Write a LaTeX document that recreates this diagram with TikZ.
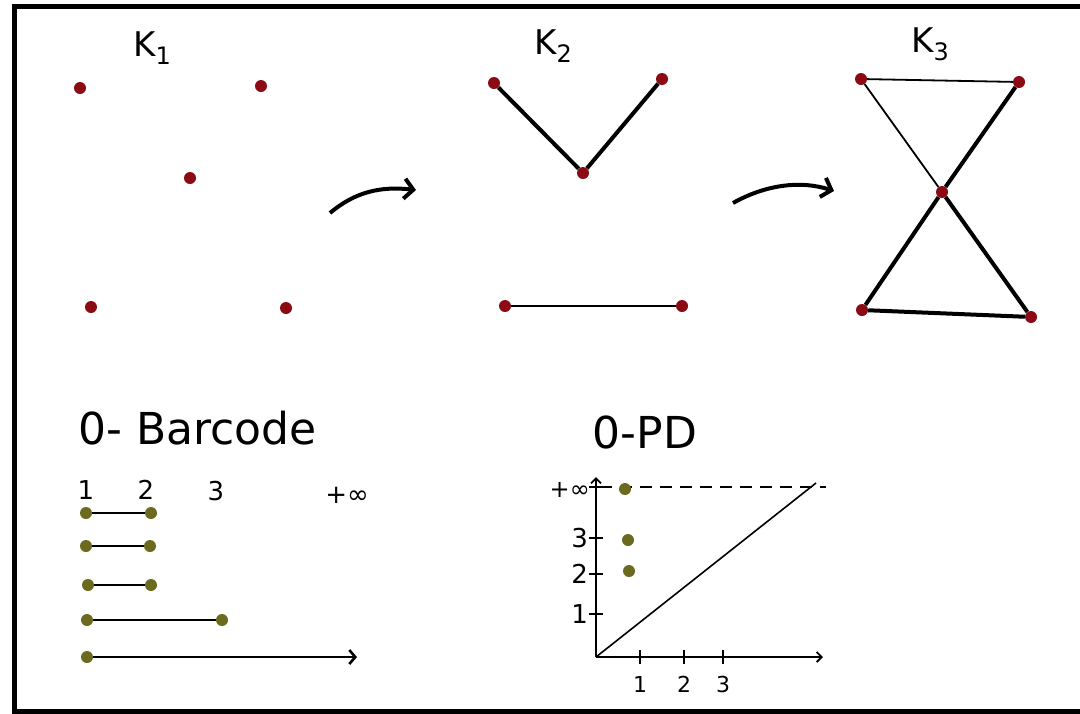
\documentclass[tikz,border=0pt]{standalone}
\usepackage{fontspec}
\setmainfont{DejaVu Sans}
\usetikzlibrary{arrows.meta}
\definecolor{dotred}{HTML}{8B0A14}
\definecolor{dotolive}{HTML}{6B6A1E}
\begin{document}
\begin{tikzpicture}[x=1pt,y=-1pt,
  rdot/.style={circle,fill=dotred,inner sep=0pt,minimum size=12pt},
  odot/.style={circle,fill=dotolive,inner sep=0pt,minimum size=12pt},
  thickedge/.style={line width=4pt,black},
  thinedge/.style={line width=1.8pt,black},
  bar/.style={line width=2.6pt,black},
  bigarrow/.style={line width=4pt,-{Straight Barb[length=9pt,width=20pt,line width=4pt]}},
  lbl/.style={font=\fontsize{34}{36}\selectfont,inner sep=0pt},
  title/.style={font=\fontsize{44}{46}\selectfont,inner sep=0pt},
  num/.style={font=\fontsize{26}{28}\selectfont,inner sep=0pt},
  axis/.style={line width=1.8pt,-{Straight Barb[length=5pt,width=10pt]}}
]
\useasboundingbox (0,0) rectangle (1080,713);
% frame
\draw[line width=5pt] (1080,6) -- (14,6) -- (14,711) -- (1080,711);

% K1
\node[lbl] (k1) at (152,48) {K{\fontsize{24}{26}\selectfont\raisebox{-8pt}{1}}};
\node[rdot] (a1) at (80,88) {};
\node[rdot] (a2) at (261,86) {};
\node[rdot] (a3) at (190,178) {};
\node[rdot] (a4) at (91,307) {};
\node[rdot] (a5) at (286,308) {};

% arrow 1
\coordinate (p1s) at (330,213);
\coordinate (p1e) at (416,190);
\draw[bigarrow] (p1s) .. controls (355,192) and (380,186) .. (p1e);

% K2
\node[lbl] (k2) at (553,46) {K{\fontsize{24}{26}\selectfont\raisebox{-8pt}{2}}};
\node[rdot] (b1) at (494,83) {};
\node[rdot] (b2) at (662,79) {};
\node[rdot] (b3) at (583,173) {};
\node[rdot] (b4) at (505,306) {};
\node[rdot] (b5) at (682,306) {};
\draw[thickedge] (b1) -- (b3);
\draw[thickedge] (b3) -- (b2);
\draw[bar] (b4) -- (b5);

% arrow 2
\coordinate (p2s) at (733,203);
\coordinate (p2e) at (834,191);
\draw[bigarrow] (p2s) .. controls (765,185) and (800,180) .. (p2e);

% K3
\node[lbl] (k3) at (930,44) {K{\fontsize{24}{26}\selectfont\raisebox{-8pt}{3}}};
\node[rdot] (c1) at (861,79) {};
\node[rdot] (c2) at (1019,82) {};
\node[rdot] (c3) at (942,192) {};
\node[rdot] (c4) at (862,310) {};
\node[rdot] (c5) at (1031,317) {};
\draw[thinedge] (c1) -- (c2);
\draw[thinedge] (c1) -- (c3);
\draw[thickedge] (c2) -- (c3);
\draw[thickedge] (c3) -- (c4);
\draw[thickedge] (c3) -- (c5);
\draw[thickedge] (c4) -- (c5);

% Barcode
\node[title,anchor=west] (bt) at (78,428) {0- Barcode};
\node[num] (n1) at (86,490) {1};
\node[num] (n2) at (146,490) {2};
\node[num] (n3) at (216,491) {3};
\node[num] (ninf) at (347,495) {+∞};
\node[odot] (d1a) at (86,513) {};
\node[odot] (d1b) at (151,513) {};
\node[odot] (d2a) at (86,546) {};
\node[odot] (d2b) at (150,546) {};
\node[odot] (d3a) at (88,585) {};
\node[odot] (d3b) at (151,585) {};
\node[odot] (d4a) at (87,620) {};
\node[odot] (d4b) at (222,620) {};
\node[odot] (d5a) at (87,657) {};
\coordinate (d5b) at (357,657);
\draw[bar] (d1a) -- (d1b);
\draw[bar] (d2a) -- (d2b);
\draw[bar] (d3a) -- (d3b);
\draw[bar] (d4a) -- (d4b);
\draw[bar,-{Straight Barb[length=6pt,width=14pt]}] (d5a) -- (d5b);

% PD
\node[title] (pt) at (645,432) {0-PD};
\coordinate (o) at (596,657);
\coordinate (ytop) at (596,477);
\coordinate (xend) at (823,657);
\draw[axis] (o) -- (ytop);
\draw[axis] (o) -- (xend);
\coordinate (diagend) at (816,483);
\draw[line width=1.6pt] (o) -- (diagend);
\coordinate (dstart) at (600,487);
\coordinate (dend) at (826,487);
\draw[line width=2.4pt,dash pattern=on 12pt off 8pt] (dstart) -- (dend);
% x ticks
\foreach \x/\t in {640/1,684/2,723/3}{
  \draw[line width=2pt] (\x,650) -- (\x,664);
  \node[num,font=\fontsize{22}{24}\selectfont] at (\x,684) {\t};
}
% y ticks
\foreach \y/\t in {614/1,574/2,538/3}{
  \draw[line width=2pt] (589,\y) -- (603,\y);
  \node[num,anchor=east] at (588,\y) {\t};
}
\draw[line width=2pt] (589,487) -- (603,487);
\node[num,anchor=east,font=\fontsize{24}{26}\selectfont] (pinf) at (590,490) {+∞};
\node[odot] (e1) at (625,489) {};
\node[odot] (e2) at (628,540) {};
\node[odot] (e3) at (629,571) {};
\end{tikzpicture}
\end{document}
